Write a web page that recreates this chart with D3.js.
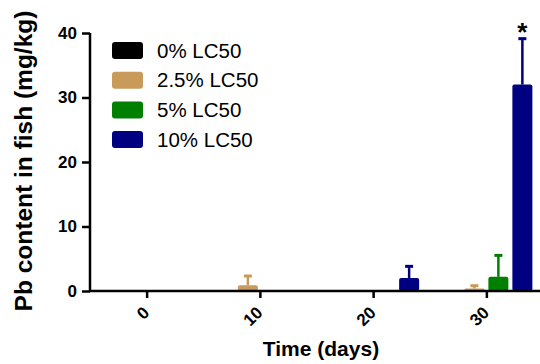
<!DOCTYPE html>
<html lang="en">
<head>
<meta charset="UTF-8">
<title>Pb content in fish</title>
<script src="https://d3js.org/d3.v7.min.js"></script>
<style>
    body { margin: 0; background: #fff; overflow: hidden; }
    text { font-family: "Liberation Sans", Arial, sans-serif; }
</style>
</head>
<body>
<script>
    // data
    const days = [0, 10, 20, 30];
    const series = ["0% LC50", "2.5% LC50", "5% LC50", "10% LC50"];
    const colors = ["#000000", "#c99b5b", "#008000", "#000080"];
    const means = [
        [0, 0, 0, 0],
        [0, 0.9, 0, 0.4],
        [0, 0, 0, 2.2],
        [0, 0, 2.0, 32.0]
    ];
    const errors = [
        [0, 0, 0, 0],
        [0, 1.5, 0, 0.5],
        [0, 0, 0, 3.4],
        [0, 0, 1.9, 7.2]
    ];
    const stars = [
        ["", "", "", ""],
        ["", "", "", ""],
        ["", "", "", ""],
        ["", "", "", "*"]
    ];
    const yTicks = [0, 10, 20, 30, 40];

    const width = 540, height = 364;
    const svg = d3.select("body").append("svg").attr("width", width).attr("height", height);

    const x = d3.scaleLinear().domain([-5, 35]).range([90, 543]);
    const y = d3.scaleLinear().domain([0, 40]).range([291, 33]);
    // offset of each series inside a day group (pixels)
    const inner = d3.scaleBand().domain(series).range([-48, 48]).paddingInner(1 / 6).paddingOuter(1 / 12);

    // bars
    const rows = [];
    series.forEach((s, i) => {
        days.forEach((d, j) => {
            rows.push({ s, i, d, m: means[i][j], e: errors[i][j], star: stars[i][j] });
        });
    });

    const g = svg.append("g");
    const bw = inner.bandwidth();

    rows.filter(r => r.m > 0).forEach(r => {
        const cx = x(r.d) + inner(r.s) + bw / 2;
        g.append("rect")
            .attr("x", cx - bw / 2)
            .attr("y", y(r.m))
            .attr("width", bw)
            .attr("height", y(0) - y(r.m))
            .attr("rx", 2)
            .attr("fill", colors[r.i]);
        if (r.e > 0) {
            g.append("line")
                .attr("x1", cx).attr("x2", cx)
                .attr("y1", y(r.m)).attr("y2", y(r.m + r.e))
                .attr("stroke", colors[r.i]).attr("stroke-width", 2.5);
            g.append("rect")
                .attr("x", cx - 4).attr("y", y(r.m + r.e) - 1)
                .attr("width", 8).attr("height", 3)
                .attr("fill", colors[r.i]);
        }
        if (r.star) {
            g.append("text")
                .attr("x", cx)
                .attr("y", y(r.m + r.e) + 3)
                .attr("text-anchor", "middle")
                .attr("font-size", "26px")
                .attr("font-weight", "bold")
                .text(r.star);
        }
    });

    // y axis
    const yAxis = svg.append("g")
        .attr("transform", "translate(90,0)")
        .call(d3.axisLeft(y).tickValues(yTicks).tickSize(8).tickPadding(5));
    yAxis.selectAll("path, line").attr("stroke", "#000").attr("stroke-width", 2.5);
    yAxis.select(".domain").attr("d", `M0,${y(40)}V${y(0)}`);
    yAxis.selectAll("text")
        .attr("font-size", "17px")
        .attr("font-weight", "bold")
        .attr("fill", "#000")
        .attr("font-family", "Liberation Sans, Arial, sans-serif");

    // x axis
    const xAxis = svg.append("g")
        .attr("transform", `translate(0,${y(0)})`)
        .call(d3.axisBottom(x).tickValues(days).tickSize(7));
    xAxis.selectAll("path, line").attr("stroke", "#000").attr("stroke-width", 2.5);
    xAxis.select(".domain").attr("d", `M90,0H540`);
    xAxis.selectAll("text")
        .attr("font-size", "17px")
        .attr("font-weight", "bold")
        .attr("fill", "#000")
        .attr("font-family", "Liberation Sans, Arial, sans-serif")
        .attr("text-anchor", "end")
        .attr("dy", "0.35em")
        .attr("y", 0)
        .attr("transform", "translate(-1,18.5) rotate(-45)");

    // axis titles
    svg.append("text")
        .attr("transform", `translate(32,161) rotate(-90)`)
        .attr("text-anchor", "middle")
        .attr("font-size", "24.5px")
        .attr("font-weight", "bold")
        .text("Pb content in fish (mg/kg)");

    svg.append("text")
        .attr("x", 321)
        .attr("y", 356)
        .attr("text-anchor", "middle")
        .attr("font-size", "21px")
        .attr("font-weight", "bold")
        .text("Time (days)");

    // legend
    const legend = svg.append("g").attr("transform", "translate(112,42)");
    series.forEach((s, i) => {
        const row = legend.append("g").attr("transform", `translate(0,${i * 29.7})`);
        row.append("rect")
            .attr("width", 31).attr("height", 17).attr("rx", 3)
            .attr("fill", colors[i]);
        row.append("text")
            .attr("x", 45).attr("y", 15.5)
            .attr("font-size", "20.5px")
            .text(s);
    });
</script>
</body>
</html>
